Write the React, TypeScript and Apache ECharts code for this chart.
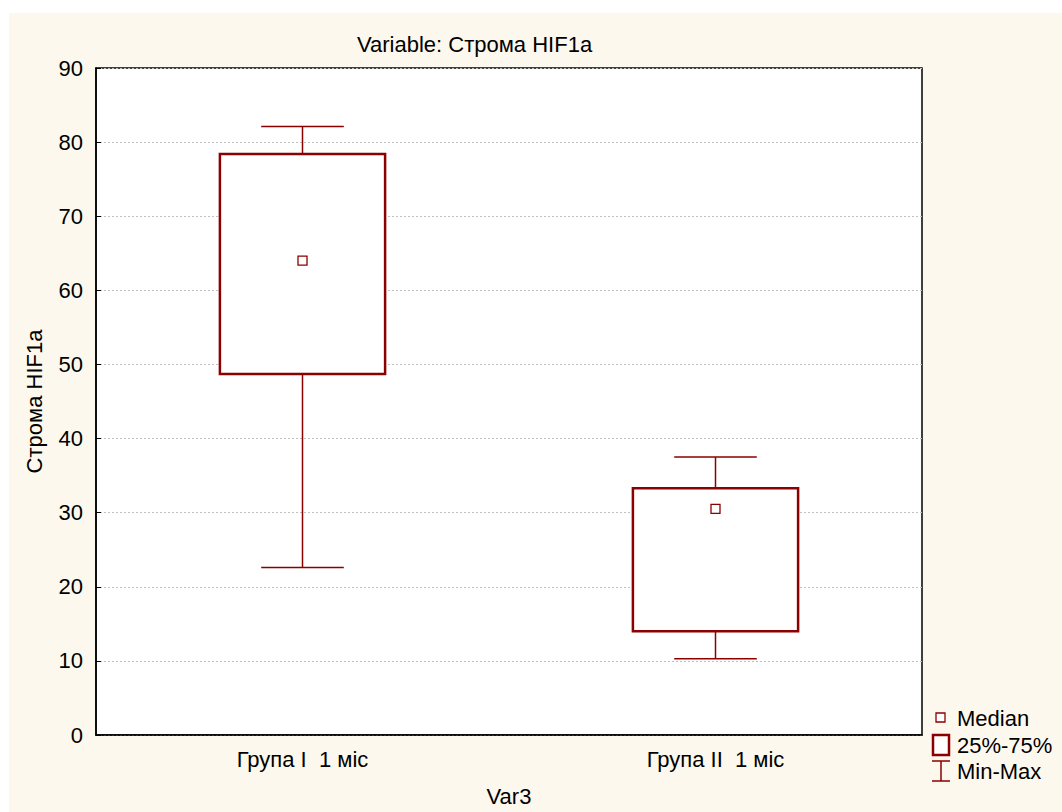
import React, { useEffect, useRef } from "react";
import * as echarts from "echarts";

const categories = ["Група І  1 міс", "Група ІІ  1 міс"];
const minValues = [22.6, 10.3];
const q1Values = [48.7, 14.0];
const medianValues = [64.0, 30.5];
const q3Values = [78.4, 33.3];
const maxValues = [82.1, 37.5];
const yTicks = [0, 10, 20, 30, 40, 50, 60, 70, 80, 90];

const RED = "#8b0000";
const FONT = "Liberation Sans, Arial, sans-serif";
const FS = 22;

export default function App() {
  const ref = useRef<HTMLDivElement>(null);
  useEffect(() => {
    if (!ref.current) return;
    const chart = echarts.init(ref.current, undefined, { renderer: "svg" });
    const data = categories.map((_, i) => [
      i,
      minValues[i],
      q1Values[i],
      medianValues[i],
      q3Values[i],
      maxValues[i],
    ]);
    const option: any = {
      animation: false,
      backgroundColor: "transparent",
      graphic: [
        {
          type: "rect",
          z: -10,
          silent: true,
          shape: { x: 9, y: 13, width: 1062, height: 812 },
          style: { fill: "#fdf8ee" },
        },
        {
          type: "rect",
          shape: { x: 936, y: 713, width: 9, height: 9 },
          style: { fill: "#fff", stroke: RED, lineWidth: 1.3 },
        },
        {
          type: "rect",
          shape: { x: 933, y: 735, width: 16, height: 20 },
          style: { fill: "#fff", stroke: RED, lineWidth: 2.5 },
        },
        {
          type: "line",
          shape: { x1: 932, y1: 761, x2: 950, y2: 761 },
          style: { stroke: RED, lineWidth: 1.5 },
        },
        {
          type: "line",
          shape: { x1: 932, y1: 781, x2: 950, y2: 781 },
          style: { stroke: RED, lineWidth: 1.5 },
        },
        {
          type: "line",
          shape: { x1: 941, y1: 761, x2: 941, y2: 781 },
          style: { stroke: RED, lineWidth: 1.5 },
        },
        {
          type: "text",
          x: 957,
          y: 718,
          style: { text: "Median", font: `${FS}px ${FONT}`, fill: "#000", textVerticalAlign: "middle" },
        },
        {
          type: "text",
          x: 957,
          y: 745,
          style: { text: "25%-75%", font: `${FS}px ${FONT}`, fill: "#000", textVerticalAlign: "middle" },
        },
        {
          type: "text",
          x: 957,
          y: 771,
          style: { text: "Min-Max", font: `${FS}px ${FONT}`, fill: "#000", textVerticalAlign: "middle" },
        },
      ],
      title: {
        text: "Variable: Строма HIF1a",
        left: 352,
        top: 28,
        textStyle: { fontFamily: FONT, fontSize: FS, fontWeight: "normal", color: "#000" },
      },
      grid: {
        left: 96,
        top: 68,
        right: 140,
        bottom: 76,
        show: true,
        backgroundColor: "#fff",
        borderColor: "#000",
        borderWidth: 1.5,
      },
      xAxis: {
        type: "category",
        data: categories,
        name: "Var3",
        nameLocation: "middle",
        nameGap: 50,
        nameTextStyle: { fontFamily: FONT, fontSize: FS, color: "#000" },
        axisLine: { lineStyle: { color: "#000", width: 1.5 } },
        axisTick: { inside: true, alignWithLabel: true, length: 5, lineStyle: { color: "#000" } },
        axisLabel: { fontFamily: FONT, fontSize: FS, color: "#000", margin: 13 },
        splitLine: { show: false },
      },
      yAxis: {
        type: "value",
        min: 0,
        max: 90,
        interval: 10,
        name: "Строма HIF1a",
        nameLocation: "middle",
        nameGap: 51,
        nameTextStyle: { fontFamily: FONT, fontSize: FS, color: "#000" },
        axisLine: { show: true, lineStyle: { color: "#000", width: 1.5 } },
        axisTick: { show: true, inside: true, length: 5, lineStyle: { color: "#000" } },
        axisLabel: {
          fontFamily: FONT,
          fontSize: FS,
          color: "#000",
          margin: 13,
          formatter: (v: number) => (yTicks.includes(v) ? String(v) : ""),
        },
        splitLine: { show: true, lineStyle: { color: "#c0c0c0", type: [2, 2], width: 1 } },
      },
      series: [
        {
          type: "custom",
          data,
          renderItem: (params: any, api: any) => {
            const x = api.value(0);
            const band = api.size([1, 0])[0];
            const boxW = band * 0.4;
            const capW = boxW / 2;
            const c = api.coord([x, 0])[0];
            const yMin = api.coord([x, api.value(1)])[1];
            const yQ1 = api.coord([x, api.value(2)])[1];
            const yMed = api.coord([x, api.value(3)])[1];
            const yQ3 = api.coord([x, api.value(4)])[1];
            const yMax = api.coord([x, api.value(5)])[1];
            const lineStyle = { stroke: RED, lineWidth: 1.5, fill: null };
            return {
              type: "group",
              children: [
                { type: "line", shape: { x1: c, y1: yMax, x2: c, y2: yQ3 }, style: lineStyle },
                { type: "line", shape: { x1: c, y1: yQ1, x2: c, y2: yMin }, style: lineStyle },
                { type: "line", shape: { x1: c - capW / 2, y1: yMax, x2: c + capW / 2, y2: yMax }, style: lineStyle },
                { type: "line", shape: { x1: c - capW / 2, y1: yMin, x2: c + capW / 2, y2: yMin }, style: lineStyle },
                {
                  type: "rect",
                  shape: { x: c - boxW / 2, y: yQ3, width: boxW, height: yQ1 - yQ3 },
                  style: { fill: "#fff", stroke: RED, lineWidth: 2.5 },
                },
                {
                  type: "rect",
                  shape: { x: c - 4.5, y: yMed - 4.5, width: 9, height: 9 },
                  style: { fill: "#fff", stroke: RED, lineWidth: 1.3 },
                },
              ],
            };
          },
        },
      ],
    };
    chart.setOption(option);
    return () => chart.dispose();
  }, []);
  return (
    <div
      ref={ref}
      style={{ position: "fixed", left: 0, top: 0, width: 1062, height: 812, background: "#fff" }}
    />
  );
}
